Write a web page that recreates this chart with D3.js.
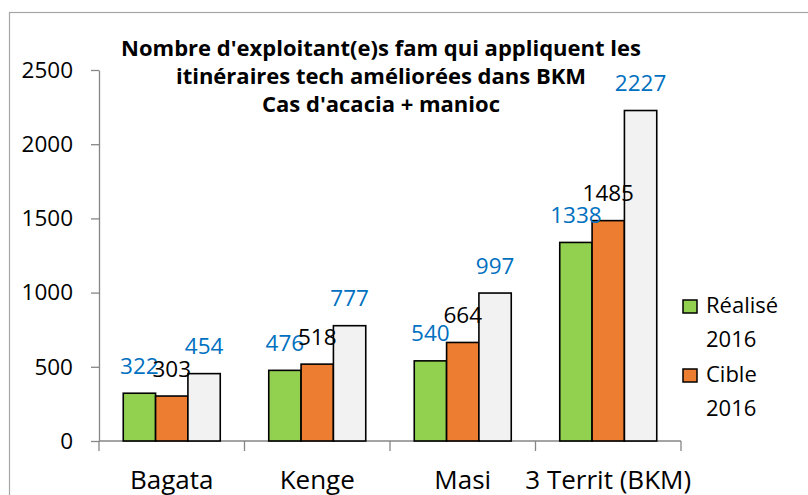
<!DOCTYPE html>
<html>
<head>
<meta charset="utf-8">
<script src="https://cdn.jsdelivr.net/npm/d3@7"></script>
<style>
  body { margin: 0; background: #fff; }
  svg { display: block; font-family: "Open Sans", "Noto Sans", sans-serif; }
</style>
</head>
<body>
<div id="graph"></div>
<script>
// categories et valeurs
const categories = ["Bagata", "Kenge", "Masi", "3 Territ (BKM)"];
const realise2016 = [322, 476, 540, 1338];
const cible2016 = [303, 518, 664, 1485];
const serie3 = [454, 777, 997, 2227];   // pas dans la légende
const yTicks = [0, 500, 1000, 1500, 2000, 2500];
const titre = [
  "Nombre d'exploitant(e)s fam qui appliquent les",
  "itinéraires tech améliorées dans BKM",
  "Cas d'acacia + manioc"
];

const series = [
  { nom: "Réalisé 2016", valeurs: realise2016, couleur: "#92D050", label: "#0070C0", legende: true },
  { nom: "Cible 2016", valeurs: cible2016, couleur: "#ED7D31", label: "#000000", legende: true },
  { nom: "", valeurs: serie3, couleur: "#F2F2F2", label: "#0070C0", legende: false }
];

const width = 808, height = 495;
const police = "'Open Sans', 'Noto Sans', sans-serif";

const svg = d3.select("#graph")
  .append("svg")
  .attr("width", width)
  .attr("height", height);

// cadre du graphique (coupé à droite et en bas)
svg.append("rect")
  .attr("x", 9.5).attr("y", 12.5)
  .attr("width", 820).attr("height", 500)
  .attr("fill", "none")
  .attr("stroke", "#a6a6a6")
  .attr("stroke-width", 1.2);

// échelles
const x0 = d3.scaleBand()
  .domain(categories)
  .range([99, 681]);

const x1 = d3.scaleBand()
  .domain(d3.range(series.length))
  .range([0, x0.bandwidth()])
  .paddingOuter(0.75);

const y = d3.scaleLinear()
  .domain([0, 2500])
  .range([441, 70]);

// axe y
const gy = svg.append("g")
  .attr("transform", "translate(99,0)")
  .call(d3.axisLeft(y).tickValues(yTicks).tickFormat(d3.format("d"))
    .tickSize(8).tickPadding(18).tickSizeOuter(0));
gy.select(".domain").attr("stroke", "#868686").attr("stroke-width", 1.3);
gy.selectAll(".tick line").attr("stroke", "#868686").attr("stroke-width", 1.3);
gy.selectAll(".tick text")
  .attr("font-size", 22.5)
  .attr("font-family", police)
  .attr("fill", "#000");

// axe x
const gx = svg.append("g")
  .attr("transform", "translate(0,441)");
gx.append("line")
  .attr("x1", 99).attr("x2", 681)
  .attr("stroke", "#868686").attr("stroke-width", 1.3);
gx.selectAll(".sep")
  .data(categories.concat(["fin"]))
  .enter()
  .append("line")
  .attr("x1", (d, i) => i < categories.length ? x0(d) : x0.range()[1])
  .attr("x2", (d, i) => i < categories.length ? x0(d) : x0.range()[1])
  .attr("y1", 0).attr("y2", 10)
  .attr("stroke", "#868686").attr("stroke-width", 1.3);
gx.selectAll(".cat")
  .data(categories)
  .enter()
  .append("text")
  .attr("x", d => x0(d) + x0.bandwidth() / 2)
  .attr("y", 48)
  .attr("text-anchor", "middle")
  .attr("font-size", 26)
  .attr("fill", "#000")
  .text(d => d);

// barres
const groupes = svg.selectAll(".groupe")
  .data(categories)
  .enter()
  .append("g")
  .attr("transform", d => "translate(" + x0(d) + ",0)");

groupes.selectAll("rect")
  .data((d, ci) => series.map((s, si) => ({ si: si, v: s.valeurs[ci], s: s })))
  .enter()
  .append("rect")
  .attr("x", d => x1(d.si))
  .attr("y", d => y(d.v))
  .attr("width", x1.bandwidth())
  .attr("height", d => y(0) - y(d.v))
  .attr("fill", d => d.s.couleur)
  .attr("stroke", "#000")
  .attr("stroke-width", 1.6);

// étiquettes de valeurs
groupes.selectAll(".val")
  .data((d, ci) => series.map((s, si) => ({ si: si, v: s.valeurs[ci], s: s })))
  .enter()
  .append("text")
  .attr("x", d => x1(d.si) + x1.bandwidth() / 2)
  .attr("y", d => y(d.v) - 19.5)
  .attr("text-anchor", "middle")
  .attr("font-size", 22.5)
  .attr("fill", d => d.s.label)
  .text(d => d.v);

// titre
svg.append("text")
  .attr("x", 381)
  .attr("y", 56)
  .attr("text-anchor", "middle")
  .attr("font-size", 22)
  .attr("font-weight", "bold")
  .attr("fill", "#000")
  .selectAll("tspan")
  .data(titre)
  .enter()
  .append("tspan")
  .attr("x", 381)
  .attr("dy", (d, i) => i === 0 ? 0 : 28)
  .text(d => d);

// légende
const leg = svg.selectAll(".leg")
  .data(series.filter(s => s.legende))
  .enter()
  .append("g")
  .attr("transform", (d, i) => "translate(683," + (300 + i * 69) + ")");
leg.append("rect")
  .attr("width", 14).attr("height", 13)
  .attr("fill", d => d.couleur)
  .attr("stroke", "#000").attr("stroke-width", 1.5);
leg.append("text")
  .attr("font-size", 22)
  .attr("fill", "#000")
  .selectAll("tspan")
  .data(d => d.nom.split(" "))
  .enter()
  .append("tspan")
  .attr("x", 23)
  .attr("y", (d, i) => 13 + i * 34)
  .text(d => d);
</script>
</body>
</html>
